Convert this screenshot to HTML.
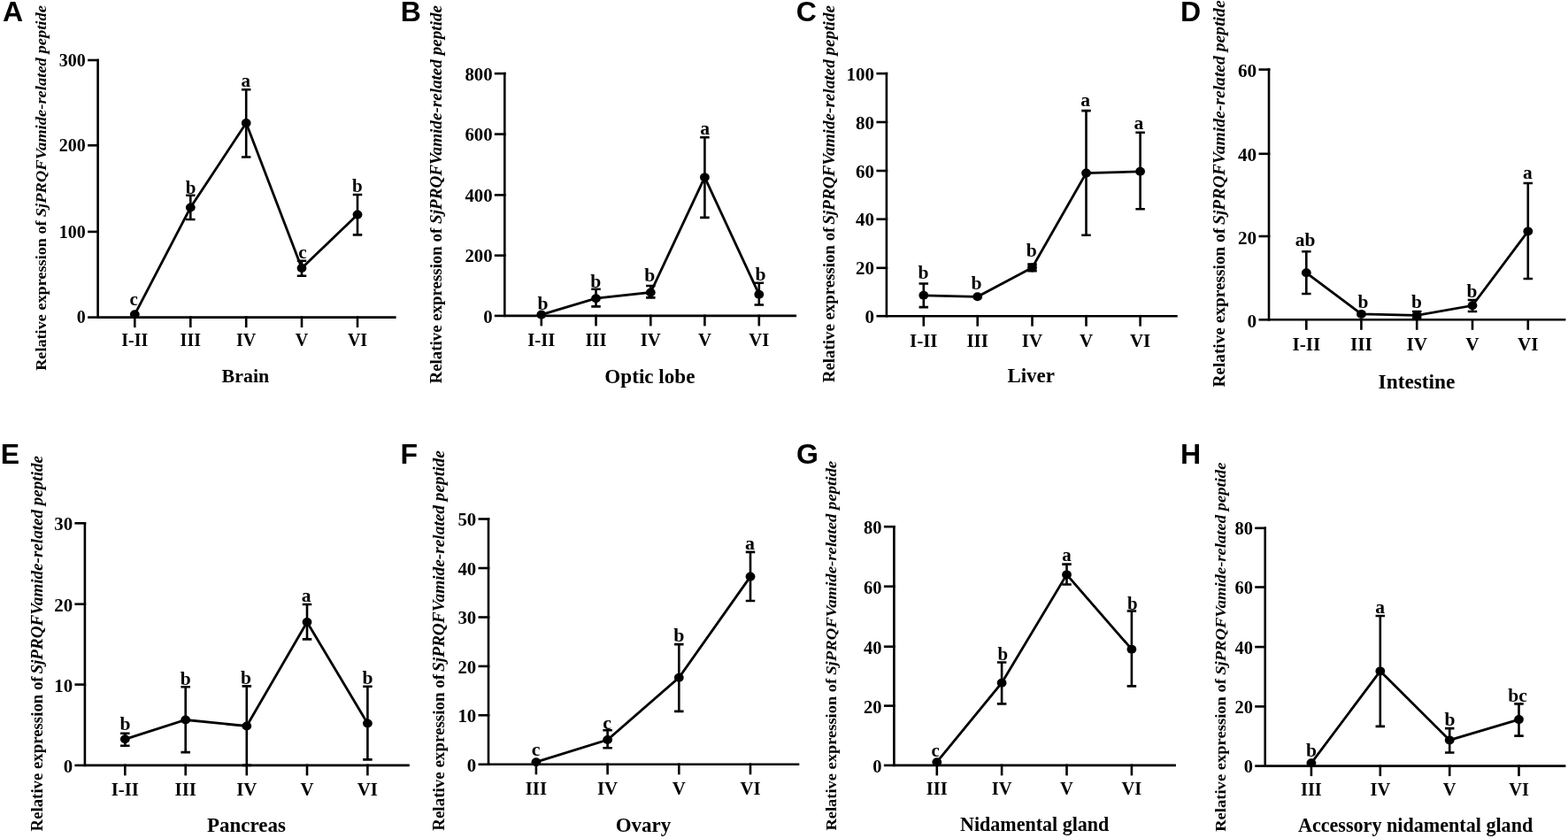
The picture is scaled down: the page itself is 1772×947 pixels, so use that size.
<!DOCTYPE html>
<html><head><meta charset="utf-8"><title>Relative expression of SjPRQFVamide-related peptide</title><style>
html,body{margin:0;padding:0;background:#fff;}
svg{display:block;}
.ax{stroke:#000;stroke-width:2.6;fill:none;stroke-linecap:square;}
.ln{stroke:#000;stroke-width:2.8;fill:none;stroke-linejoin:miter;}
.er{stroke:#000;stroke-width:2.6;fill:none;}
ellipse{fill:#000;}
text{font-family:"Liberation Serif","Times New Roman",serif;font-weight:bold;fill:#000;}
.pl{font-family:"Liberation Sans",Arial,sans-serif;font-size:32px;stroke:none;}
</style></head><body>
<svg width="1772" height="947" viewBox="0 0 1772 947">
<rect width="1772" height="947" fill="#fff"/>
<g><path class="ax" d="M110.6 68V358.6H446.3"/><path class="ax" d="M100.4 358.6H110.6"/><text class="tk" font-size="20.0" x="96.8" y="365.4" text-anchor="end">0</text><path class="ax" d="M100.4 261.9H110.6"/><text class="tk" font-size="20.0" x="96.8" y="268.7" text-anchor="end">100</text><path class="ax" d="M100.4 164.3H110.6"/><text class="tk" font-size="20.0" x="96.8" y="171.1" text-anchor="end">200</text><path class="ax" d="M100.4 68H110.6"/><text class="tk" font-size="20.0" x="96.8" y="74.8" text-anchor="end">300</text><path class="ax" d="M152.3 358.6V368.8"/><text class="tk" font-size="20.0" x="152.3" y="391" text-anchor="middle">I-II</text><path class="ax" d="M215.3 358.6V368.8"/><text class="tk" font-size="20.0" x="215.3" y="391" text-anchor="middle">III</text><path class="ax" d="M278.2 358.6V368.8"/><text class="tk" font-size="20.0" x="278.2" y="391" text-anchor="middle">IV</text><path class="ax" d="M341 358.6V368.8"/><text class="tk" font-size="20.0" x="341" y="391" text-anchor="middle">V</text><path class="ax" d="M404 358.6V368.8"/><text class="tk" font-size="20.0" x="404" y="391" text-anchor="middle">VI</text><path class="ln" d="M152.3 355.3 L215.3 234.5 L278.2 139.1 L341 303 L404 242.6"/><ellipse cx="152.3" cy="355.3" rx="5.4" ry="5.0"/><text class="lt" font-size="21.0" x="151.1" y="345" text-anchor="middle">c</text><path class="er" d="M215.3 220.8V248M210.05 220.8H220.55M210.05 248H220.55"/><ellipse cx="215.3" cy="234.5" rx="5.4" ry="5.0"/><text class="lt" font-size="21.0" x="215.65" y="219.1" text-anchor="middle">b</text><path class="er" d="M278.2 101.2V177.5M272.95 101.2H283.45M272.95 177.5H283.45"/><ellipse cx="278.2" cy="139.1" rx="5.4" ry="5.0"/><text class="lt" font-size="21.0" x="277.65" y="98" text-anchor="middle">a</text><path class="er" d="M341 294.8V311.8M335.75 294.8H346.25M335.75 311.8H346.25"/><ellipse cx="341" cy="303" rx="5.4" ry="5.0"/><text class="lt" font-size="21.0" x="342" y="291.7" text-anchor="middle">c</text><path class="er" d="M404 220V265.4M398.75 220H409.25M398.75 265.4H409.25"/><ellipse cx="404" cy="242.6" rx="5.4" ry="5.0"/><text class="lt" font-size="21.0" x="403.8" y="217" text-anchor="middle">b</text><text class="pl" x="3" y="23.8">A</text><text class="ti" font-size="21.95" x="277.4" y="431.6" text-anchor="middle">Brain</text><text class="yl" font-size="17.5" transform="translate(52.4 418.8) rotate(-90)" textLength="169.4" lengthAdjust="spacingAndGlyphs">Relative expression of</text><text class="yl" font-size="17.5" font-style="italic" transform="translate(52.4 245.2) rotate(-90)" textLength="239.21" lengthAdjust="spacingAndGlyphs">SjPRQFVamide-related peptide</text></g>
<g><path class="ax" d="M570.3 83.1V356.9H898.8"/><path class="ax" d="M560.1 356.9H570.3"/><text class="tk" font-size="20.75" x="556.5" y="364.65" text-anchor="end">0</text><path class="ax" d="M560.1 288.7H570.3"/><text class="tk" font-size="20.75" x="556.5" y="296.45" text-anchor="end">200</text><path class="ax" d="M560.1 220.4H570.3"/><text class="tk" font-size="20.75" x="556.5" y="228.16" text-anchor="end">400</text><path class="ax" d="M560.1 151.6H570.3"/><text class="tk" font-size="20.75" x="556.5" y="159.35" text-anchor="end">600</text><path class="ax" d="M560.1 83.1H570.3"/><text class="tk" font-size="20.75" x="556.5" y="90.86" text-anchor="end">800</text><path class="ax" d="M611.8 356.9V367.1"/><text class="tk" font-size="20.75" x="611.8" y="391.3" text-anchor="middle">I-II</text><path class="ax" d="M673.5 356.9V367.1"/><text class="tk" font-size="20.75" x="673.5" y="391.3" text-anchor="middle">III</text><path class="ax" d="M735.3 356.9V367.1"/><text class="tk" font-size="20.75" x="735.3" y="391.3" text-anchor="middle">IV</text><path class="ax" d="M796.4 356.9V367.1"/><text class="tk" font-size="20.75" x="796.4" y="391.3" text-anchor="middle">V</text><path class="ax" d="M857.8 356.9V367.1"/><text class="tk" font-size="20.75" x="857.8" y="391.3" text-anchor="middle">VI</text><path class="ln" d="M611.8 355.6 L673.5 337.2 L735.3 330.5 L796.4 200.4 L857.8 332.7"/><ellipse cx="611.8" cy="355.6" rx="5.4" ry="5.0"/><text class="lt" font-size="21.6" x="613.5" y="349.6" text-anchor="middle">b</text><path class="er" d="M673.5 326.8V346.4M668.25 326.8H678.75M668.25 346.4H678.75"/><ellipse cx="673.5" cy="337.2" rx="5.4" ry="5.0"/><text class="lt" font-size="21.6" x="673.2" y="325.3" text-anchor="middle">b</text><path class="er" d="M735.3 323V336.4M730.05 323H740.55M730.05 336.4H740.55"/><ellipse cx="735.3" cy="330.5" rx="5.4" ry="5.0"/><text class="lt" font-size="21.6" x="734.2" y="318.2" text-anchor="middle">b</text><path class="er" d="M796.4 155.3V245.9M791.15 155.3H801.65M791.15 245.9H801.65"/><ellipse cx="796.4" cy="200.4" rx="5.4" ry="5.0"/><text class="lt" font-size="21.6" x="796.6" y="151.5" text-anchor="middle">a</text><path class="er" d="M857.8 319.8V344.5M852.55 319.8H863.05M852.55 344.5H863.05"/><ellipse cx="857.8" cy="332.7" rx="5.4" ry="5.0"/><text class="lt" font-size="21.6" x="859.5" y="317.3" text-anchor="middle">b</text><text class="pl" x="452.8" y="23.6">B</text><text class="ti" font-size="23.11" x="734.4" y="432.8" text-anchor="middle">Optic lobe</text><text class="yl" font-size="18.2" transform="translate(498.8 433.4) rotate(-90)" textLength="175.6" lengthAdjust="spacingAndGlyphs">Relative expression of</text><text class="yl" font-size="18.2" font-style="italic" transform="translate(498.8 253) rotate(-90)" textLength="247" lengthAdjust="spacingAndGlyphs">SjPRQFVamide-related peptide</text></g>
<g><path class="ax" d="M1001.9 83.1V357.2H1329.4"/><path class="ax" d="M991.7 357.2H1001.9"/><text class="tk" font-size="21.0" x="988.1" y="364.84" text-anchor="end">0</text><path class="ax" d="M991.7 302.8H1001.9"/><text class="tk" font-size="21.0" x="988.1" y="310.44" text-anchor="end">20</text><path class="ax" d="M991.7 247.7H1001.9"/><text class="tk" font-size="21.0" x="988.1" y="255.34" text-anchor="end">40</text><path class="ax" d="M991.7 193H1001.9"/><text class="tk" font-size="21.0" x="988.1" y="200.64" text-anchor="end">60</text><path class="ax" d="M991.7 138H1001.9"/><text class="tk" font-size="21.0" x="988.1" y="145.64" text-anchor="end">80</text><path class="ax" d="M991.7 83.1H1001.9"/><text class="tk" font-size="21.0" x="988.1" y="90.74" text-anchor="end">100</text><path class="ax" d="M1043.8 357.2V367.4"/><text class="tk" font-size="21.0" x="1043.8" y="391.7" text-anchor="middle">I-II</text><path class="ax" d="M1104.7 357.2V367.4"/><text class="tk" font-size="21.0" x="1104.7" y="391.7" text-anchor="middle">III</text><path class="ax" d="M1166.5 357.2V367.4"/><text class="tk" font-size="21.0" x="1166.5" y="391.7" text-anchor="middle">IV</text><path class="ax" d="M1227.5 357.2V367.4"/><text class="tk" font-size="21.0" x="1227.5" y="391.7" text-anchor="middle">V</text><path class="ax" d="M1288.6 357.2V367.4"/><text class="tk" font-size="21.0" x="1288.6" y="391.7" text-anchor="middle">VI</text><path class="ln" d="M1043.8 333.8 L1104.7 335.3 L1166.5 302.4 L1227.5 195.6 L1288.6 193.8"/><path class="er" d="M1043.8 320.5V347.1M1038.55 320.5H1049.05M1038.55 347.1H1049.05"/><ellipse cx="1043.8" cy="333.8" rx="5.4" ry="5.0"/><text class="lt" font-size="21.6" x="1043.5" y="314.7" text-anchor="middle">b</text><ellipse cx="1104.7" cy="335.3" rx="5.4" ry="5.0"/><text class="lt" font-size="21.6" x="1103.6" y="327.2" text-anchor="middle">b</text><path class="er" d="M1166.5 298.6V306.2M1161.25 298.6H1171.75M1161.25 306.2H1171.75"/><ellipse cx="1166.5" cy="302.4" rx="5.4" ry="5.0"/><text class="lt" font-size="21.6" x="1165.7" y="290.4" text-anchor="middle">b</text><path class="er" d="M1227.5 125.1V265.8M1222.25 125.1H1232.75M1222.25 265.8H1232.75"/><ellipse cx="1227.5" cy="195.6" rx="5.4" ry="5.0"/><text class="lt" font-size="21.6" x="1226.6" y="119.7" text-anchor="middle">a</text><path class="er" d="M1288.6 149.8V236.3M1283.35 149.8H1293.85M1283.35 236.3H1293.85"/><ellipse cx="1288.6" cy="193.8" rx="5.4" ry="5.0"/><text class="lt" font-size="21.6" x="1287" y="146.2" text-anchor="middle">a</text><text class="pl" x="899.8" y="23.8">C</text><text class="ti" font-size="22.94" x="1165.2" y="432.2" text-anchor="middle">Liver</text><text class="yl" font-size="18.1" transform="translate(943 432.2) rotate(-90)" textLength="175.6" lengthAdjust="spacingAndGlyphs">Relative expression of</text><text class="yl" font-size="18.1" font-style="italic" transform="translate(943 253.8) rotate(-90)" textLength="247.81" lengthAdjust="spacingAndGlyphs">SjPRQFVamide-related peptide</text></g>
<g><path class="ax" d="M1434 78.6V361.3H1768.1"/><path class="ax" d="M1423.8 361.3H1434"/><text class="tk" font-size="21.2" x="1420.2" y="369.81" text-anchor="end">0</text><path class="ax" d="M1423.8 267H1434"/><text class="tk" font-size="21.2" x="1420.2" y="275.51" text-anchor="end">20</text><path class="ax" d="M1423.8 173.8H1434"/><text class="tk" font-size="21.2" x="1420.2" y="182.31" text-anchor="end">40</text><path class="ax" d="M1423.8 78.6H1434"/><text class="tk" font-size="21.2" x="1420.2" y="87.11" text-anchor="end">60</text><path class="ax" d="M1476.3 361.3V371.5"/><text class="tk" font-size="21.2" x="1476.3" y="395.8" text-anchor="middle">I-II</text><path class="ax" d="M1538.4 361.3V371.5"/><text class="tk" font-size="21.2" x="1538.4" y="395.8" text-anchor="middle">III</text><path class="ax" d="M1601.2 361.3V371.5"/><text class="tk" font-size="21.2" x="1601.2" y="395.8" text-anchor="middle">IV</text><path class="ax" d="M1664 361.3V371.5"/><text class="tk" font-size="21.2" x="1664" y="395.8" text-anchor="middle">V</text><path class="ax" d="M1726.8 361.3V371.5"/><text class="tk" font-size="21.2" x="1726.8" y="395.8" text-anchor="middle">VI</text><path class="ln" d="M1476.3 308.3 L1538.4 354.9 L1601.2 356.4 L1664 345.3 L1726.8 261.4"/><path class="er" d="M1476.3 284.3V332M1471.05 284.3H1481.55M1471.05 332H1481.55"/><ellipse cx="1476.3" cy="308.3" rx="5.4" ry="5.0"/><text class="lt" font-size="21.4" x="1475.1" y="278.2" text-anchor="middle">ab</text><ellipse cx="1538.4" cy="354.9" rx="5.4" ry="5.0"/><text class="lt" font-size="21.4" x="1540.5" y="347.6" text-anchor="middle">b</text><path class="er" d="M1601.2 352V359.5M1595.95 352H1606.45M1595.95 359.5H1606.45"/><ellipse cx="1601.2" cy="356.4" rx="5.4" ry="5.0"/><text class="lt" font-size="21.4" x="1601" y="347.6" text-anchor="middle">b</text><path class="er" d="M1664 339V352M1658.75 339H1669.25M1658.75 352H1669.25"/><ellipse cx="1664" cy="345.3" rx="5.4" ry="5.0"/><text class="lt" font-size="21.4" x="1663.4" y="335.5" text-anchor="middle">b</text><path class="er" d="M1726.8 207V315M1721.55 207H1732.05M1721.55 315H1732.05"/><ellipse cx="1726.8" cy="261.4" rx="5.4" ry="5.0"/><text class="lt" font-size="21.4" x="1726.3" y="201.5" text-anchor="middle">a</text><text class="pl" x="1334.1" y="23.8">D</text><text class="ti" font-size="23.32" x="1601" y="438.8" text-anchor="middle">Intestine</text><text class="yl" font-size="18.6" transform="translate(1383.6 437.6) rotate(-90)" textLength="179.8" lengthAdjust="spacingAndGlyphs">Relative expression of</text><text class="yl" font-size="18.6" font-style="italic" transform="translate(1383.6 254) rotate(-90)" textLength="253.6" lengthAdjust="spacingAndGlyphs">SjPRQFVamide-related peptide</text></g>
<g><path class="ax" d="M95.9 591.3V864.9H461.5"/><path class="ax" d="M85.7 864.9H95.9"/><text class="tk" font-size="20.8" x="82.1" y="872.87" text-anchor="end">0</text><path class="ax" d="M85.7 773.6H95.9"/><text class="tk" font-size="20.8" x="82.1" y="781.57" text-anchor="end">10</text><path class="ax" d="M85.7 682.7H95.9"/><text class="tk" font-size="20.8" x="82.1" y="690.67" text-anchor="end">20</text><path class="ax" d="M85.7 591.3H95.9"/><text class="tk" font-size="20.8" x="82.1" y="599.27" text-anchor="end">30</text><path class="ax" d="M141.3 864.9V875.1"/><text class="tk" font-size="20.8" x="141.3" y="898.5" text-anchor="middle">I-II</text><path class="ax" d="M209.7 864.9V875.1"/><text class="tk" font-size="20.8" x="209.7" y="898.5" text-anchor="middle">III</text><path class="ax" d="M278.8 864.9V875.1"/><text class="tk" font-size="20.8" x="278.8" y="898.5" text-anchor="middle">IV</text><path class="ax" d="M347 864.9V875.1"/><text class="tk" font-size="20.8" x="347" y="898.5" text-anchor="middle">V</text><path class="ax" d="M415.4 864.9V875.1"/><text class="tk" font-size="20.8" x="415.4" y="898.5" text-anchor="middle">VI</text><path class="ln" d="M141.3 835.3 L209.7 813.5 L278.8 820.5 L347 703 L415.4 817.5"/><path class="er" d="M141.3 828.7V842.7M136.05 828.7H146.55M136.05 842.7H146.55"/><ellipse cx="141.3" cy="835.3" rx="5.4" ry="5.0"/><text class="lt" font-size="21.5" x="141.5" y="825.1" text-anchor="middle">b</text><path class="er" d="M209.7 776.2V850.1M204.45 776.2H214.95M204.45 850.1H214.95"/><ellipse cx="209.7" cy="813.5" rx="5.4" ry="5.0"/><text class="lt" font-size="21.5" x="209.7" y="774.2" text-anchor="middle">b</text><path class="er" d="M278.8 775.4V864.9M273.55 775.4H284.05M273.55 864.9H284.05"/><ellipse cx="278.8" cy="820.5" rx="5.4" ry="5.0"/><text class="lt" font-size="21.5" x="277.9" y="772.6" text-anchor="middle">b</text><path class="er" d="M347 683V722.4M341.75 683H352.25M341.75 722.4H352.25"/><ellipse cx="347" cy="703" rx="5.4" ry="5.0"/><text class="lt" font-size="21.5" font-weight="normal" x="346.2" y="680.2" text-anchor="middle">a</text><path class="er" d="M415.4 775.7V858.4M410.15 775.7H420.65M410.15 858.4H420.65"/><ellipse cx="415.4" cy="817.5" rx="5.4" ry="5.0"/><text class="lt" font-size="21.5" x="415.4" y="772.7" text-anchor="middle">b</text><text class="pl" x="0.8" y="524.4">E</text><text class="ti" font-size="22.98" x="278.5" y="939.8" text-anchor="middle">Pancreas</text><text class="yl" font-size="18" transform="translate(48.3 939.4) rotate(-90)" textLength="175" lengthAdjust="spacingAndGlyphs">Relative expression of</text><text class="yl" font-size="18" font-style="italic" transform="translate(48.3 761.6) rotate(-90)" textLength="246.61" lengthAdjust="spacingAndGlyphs">SjPRQFVamide-related peptide</text></g>
<g><path class="ax" d="M552 586.5V863.8H902"/><path class="ax" d="M541.8 863.8H552"/><text class="tk" font-size="20.8" x="538.2" y="871.57" text-anchor="end">0</text><path class="ax" d="M541.8 808.3H552"/><text class="tk" font-size="20.8" x="538.2" y="816.07" text-anchor="end">10</text><path class="ax" d="M541.8 752.9H552"/><text class="tk" font-size="20.8" x="538.2" y="760.67" text-anchor="end">20</text><path class="ax" d="M541.8 697.5H552"/><text class="tk" font-size="20.8" x="538.2" y="705.27" text-anchor="end">30</text><path class="ax" d="M541.8 642H552"/><text class="tk" font-size="20.8" x="538.2" y="649.77" text-anchor="end">40</text><path class="ax" d="M541.8 586.5H552"/><text class="tk" font-size="20.8" x="538.2" y="594.27" text-anchor="end">50</text><path class="ax" d="M605.9 863.8V874"/><text class="tk" font-size="20.8" x="605.9" y="897.7" text-anchor="middle">III</text><path class="ax" d="M686.6 863.8V874"/><text class="tk" font-size="20.8" x="686.6" y="897.7" text-anchor="middle">IV</text><path class="ax" d="M767.3 863.8V874"/><text class="tk" font-size="20.8" x="767.3" y="897.7" text-anchor="middle">V</text><path class="ax" d="M848 863.8V874"/><text class="tk" font-size="20.8" x="848" y="897.7" text-anchor="middle">VI</text><path class="ln" d="M605.9 861.2 L686.6 836 L767.3 765.8 L848 651.6"/><ellipse cx="605.9" cy="861.2" rx="5.4" ry="5.0"/><text class="lt" font-size="21.9" x="605.7" y="853.6" text-anchor="middle">c</text><path class="er" d="M686.6 825.3V845.3M681.35 825.3H691.85M681.35 845.3H691.85"/><ellipse cx="686.6" cy="836" rx="5.4" ry="5.0"/><text class="lt" font-size="21.9" x="686.1" y="824" text-anchor="middle">c</text><path class="er" d="M767.3 728.1V803.9M762.05 728.1H772.55M762.05 803.9H772.55"/><ellipse cx="767.3" cy="765.8" rx="5.4" ry="5.0"/><text class="lt" font-size="21.9" x="767.3" y="724.6" text-anchor="middle">b</text><path class="er" d="M848 623.9V679M842.75 623.9H853.25M842.75 679H853.25"/><ellipse cx="848" cy="651.6" rx="5.4" ry="5.0"/><text class="lt" font-size="21.9" x="847.4" y="620.7" text-anchor="middle">a</text><text class="pl" x="452.6" y="524.2">F</text><text class="ti" font-size="22.98" x="726.9" y="940" text-anchor="middle">Ovary</text><text class="yl" font-size="18.3" transform="translate(501.5 938.8) rotate(-90)" textLength="177" lengthAdjust="spacingAndGlyphs">Relative expression of</text><text class="yl" font-size="18.3" font-style="italic" transform="translate(501.5 759) rotate(-90)" textLength="249.8" lengthAdjust="spacingAndGlyphs">SjPRQFVamide-related peptide</text></g>
<g><path class="ax" d="M1010.4 595.2V864.9H1327.6"/><path class="ax" d="M1000.2 864.9H1010.4"/><text class="tk" font-size="20.5" x="996.6" y="872.87" text-anchor="end">0</text><path class="ax" d="M1000.2 797.6H1010.4"/><text class="tk" font-size="20.5" x="996.6" y="805.57" text-anchor="end">20</text><path class="ax" d="M1000.2 730.7H1010.4"/><text class="tk" font-size="20.5" x="996.6" y="738.67" text-anchor="end">40</text><path class="ax" d="M1000.2 662.7H1010.4"/><text class="tk" font-size="20.5" x="996.6" y="670.67" text-anchor="end">60</text><path class="ax" d="M1000.2 595.2H1010.4"/><text class="tk" font-size="20.5" x="996.6" y="603.17" text-anchor="end">80</text><path class="ax" d="M1058.8 864.9V875.1"/><text class="tk" font-size="20.5" x="1058.8" y="897.7" text-anchor="middle">III</text><path class="ax" d="M1132.1 864.9V875.1"/><text class="tk" font-size="20.5" x="1132.1" y="897.7" text-anchor="middle">IV</text><path class="ax" d="M1205.5 864.9V875.1"/><text class="tk" font-size="20.5" x="1205.5" y="897.7" text-anchor="middle">V</text><path class="ax" d="M1278.9 864.9V875.1"/><text class="tk" font-size="20.5" x="1278.9" y="897.7" text-anchor="middle">VI</text><path class="ln" d="M1058.8 861.2 L1132.1 771.7 L1205.5 649.4 L1278.9 733.7"/><ellipse cx="1058.8" cy="861.2" rx="5.4" ry="5.0"/><text class="lt" font-size="20.9" x="1057.2" y="854.5" text-anchor="middle">c</text><path class="er" d="M1132.1 748.5V795.4M1126.85 748.5H1137.35M1126.85 795.4H1137.35"/><ellipse cx="1132.1" cy="771.7" rx="5.4" ry="5.0"/><text class="lt" font-size="20.9" x="1133.2" y="745.8" text-anchor="middle">b</text><path class="er" d="M1205.5 637.6V660.5M1200.25 637.6H1210.75M1200.25 660.5H1210.75"/><ellipse cx="1205.5" cy="649.4" rx="5.4" ry="5.0"/><text class="lt" font-size="20.9" x="1205.5" y="634.3" text-anchor="middle">a</text><path class="er" d="M1278.9 690.5V775.4M1273.65 690.5H1284.15M1273.65 775.4H1284.15"/><ellipse cx="1278.9" cy="733.7" rx="5.4" ry="5.0"/><text class="lt" font-size="20.9" x="1279.9" y="688.8" text-anchor="middle">b</text><text class="pl" x="900" y="524.4">G</text><text class="ti" font-size="22.04" x="1169.2" y="939.1" text-anchor="middle">Nidamental gland</text><text class="yl" font-size="17.75" transform="translate(944.7 938.6) rotate(-90)" textLength="171.8" lengthAdjust="spacingAndGlyphs">Relative expression of</text><text class="yl" font-size="17.75" font-style="italic" transform="translate(944.7 762.8) rotate(-90)" textLength="242" lengthAdjust="spacingAndGlyphs">SjPRQFVamide-related peptide</text></g>
<g><path class="ax" d="M1429.7 596.8V865.6H1768.1"/><path class="ax" d="M1419.5 865.6H1429.7"/><text class="tk" font-size="20.4" x="1415.9" y="873.14" text-anchor="end">0</text><path class="ax" d="M1419.5 798.4H1429.7"/><text class="tk" font-size="20.4" x="1415.9" y="805.94" text-anchor="end">20</text><path class="ax" d="M1419.5 731.1H1429.7"/><text class="tk" font-size="20.4" x="1415.9" y="738.64" text-anchor="end">40</text><path class="ax" d="M1419.5 663.5H1429.7"/><text class="tk" font-size="20.4" x="1415.9" y="671.04" text-anchor="end">60</text><path class="ax" d="M1419.5 596.8H1429.7"/><text class="tk" font-size="20.4" x="1415.9" y="604.34" text-anchor="end">80</text><path class="ax" d="M1481.9 865.6V875.8"/><text class="tk" font-size="20.4" x="1481.9" y="898.5" text-anchor="middle">III</text><path class="ax" d="M1559.8 865.6V875.8"/><text class="tk" font-size="20.4" x="1559.8" y="898.5" text-anchor="middle">IV</text><path class="ax" d="M1638.2 865.6V875.8"/><text class="tk" font-size="20.4" x="1638.2" y="898.5" text-anchor="middle">V</text><path class="ax" d="M1716.5 865.6V875.8"/><text class="tk" font-size="20.4" x="1716.5" y="898.5" text-anchor="middle">VI</text><path class="ln" d="M1481.9 862.3 L1559.8 758.4 L1638.2 836.4 L1716.5 813.1"/><ellipse cx="1481.9" cy="862.3" rx="5.4" ry="5.0"/><text class="lt" font-size="21.5" x="1482.1" y="854.8" text-anchor="middle">b</text><path class="er" d="M1559.8 696V820.9M1554.55 696H1565.05M1554.55 820.9H1565.05"/><ellipse cx="1559.8" cy="758.4" rx="5.4" ry="5.0"/><text class="lt" font-size="21.5" x="1559.7" y="692.9" text-anchor="middle">a</text><path class="er" d="M1638.2 823.1V850.5M1632.95 823.1H1643.45M1632.95 850.5H1643.45"/><ellipse cx="1638.2" cy="836.4" rx="5.4" ry="5.0"/><text class="lt" font-size="21.5" x="1638.4" y="819.8" text-anchor="middle">b</text><path class="er" d="M1716.5 795.4V831.6M1711.25 795.4H1721.75M1711.25 831.6H1721.75"/><ellipse cx="1716.5" cy="813.1" rx="5.4" ry="5.0"/><text class="lt" font-size="21.5" x="1715.1" y="793.2" text-anchor="middle">bc</text><text class="pl" x="1334" y="524.4">H</text><text class="ti" font-size="22.12" x="1599.6" y="940" text-anchor="middle">Accessory nidamental gland</text><text class="yl" font-size="17.7" transform="translate(1385 939.8) rotate(-90)" textLength="172.81" lengthAdjust="spacingAndGlyphs">Relative expression of</text><text class="yl" font-size="17.7" font-style="italic" transform="translate(1385 762.8) rotate(-90)" textLength="240.21" lengthAdjust="spacingAndGlyphs">SjPRQFVamide-related peptide</text></g>
</svg>
</body></html>
